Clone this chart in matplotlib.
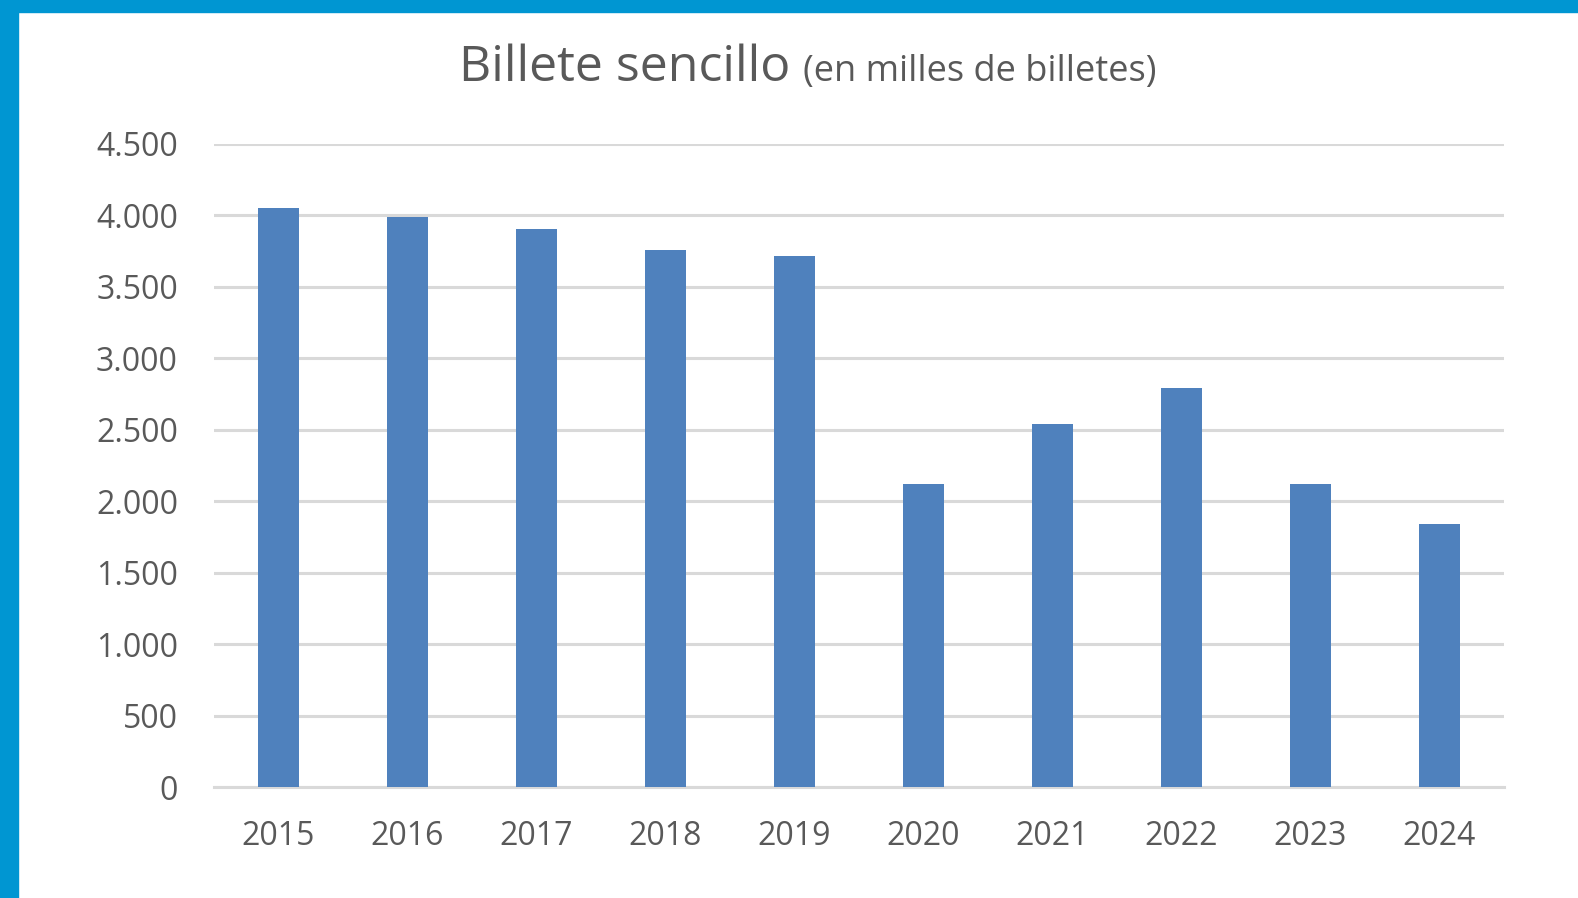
import numpy as np
import matplotlib.pyplot as plt
from matplotlib.patches import Rectangle

years = ["2015", "2016", "2017", "2018", "2019", "2020", "2021", "2022", "2023", "2024"]
billetes = [4050, 3990, 3905, 3760, 3715, 2120, 2540, 2790, 2120, 1840]
yticks = [0, 500, 1000, 1500, 2000, 2500, 3000, 3500, 4000, 4500]
ytick_labels = ["0", "500", "1.000", "1.500", "2.000", "2.500", "3.000", "3.500", "4.000", "4.500"]

W, H = 1578, 898
plt.rcParams['font.family'] = ['Open Sans', 'DejaVu Sans']
txt = '#595959'

fig = plt.figure(figsize=(W / 100, H / 100), dpi=100)
fig.patch.set_facecolor('white')

# blue frame on left and top
fig.add_artist(Rectangle((0, 0), 18 / W, 1, transform=fig.transFigure, color='#0096D2', zorder=0))
fig.add_artist(Rectangle((0, 1 - 12 / H), 1, 12 / H, transform=fig.transFigure, color='#0096D2', zorder=0))

ax = fig.add_axes([214 / W, 1 - 787 / H, (1504 - 214) / W, (787 - 144) / H])
x = np.arange(len(years))
ax.bar(x, billetes, width=0.32, color='#4F81BD', zorder=3)

ax.set_xlim(-0.5, len(years) - 0.5)
ax.set_ylim(0, 4500)
ax.set_yticks(yticks)
ax.set_yticklabels(ytick_labels)
ax.set_xticks(x)
ax.set_xticklabels(years)
ax.yaxis.grid(True, color='#D9D9D9', linewidth=2.2, zorder=0)
ax.tick_params(axis='both', length=0, labelsize=23, colors=txt)
ax.tick_params(axis='y', pad=26)
ax.tick_params(axis='x', pad=24)
for s in ['top', 'right', 'left']:
    ax.spines[s].set_visible(False)
ax.spines['bottom'].set_color('#D9D9D9')
ax.spines['bottom'].set_linewidth(2.2)

fig.text(790 / W, 1 - 81 / H, "Billete sencillo", fontsize=36, color=txt,
         ha='right', va='baseline')
fig.text(803 / W, 1 - 81 / H, "(en milles de billetes)", fontsize=26, color=txt,
         ha='left', va='baseline')

fig.savefig('out.png', dpi=100)
